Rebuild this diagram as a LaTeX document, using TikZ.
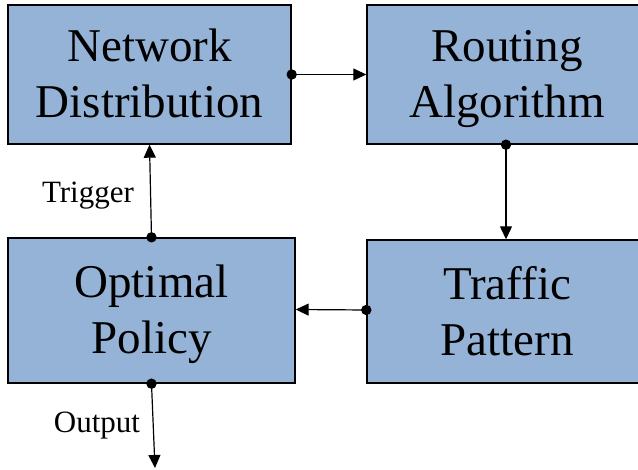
\documentclass[tikz,border=0pt]{standalone}
\usepackage{fontspec}
\setmainfont{Liberation Serif}
\usetikzlibrary{arrows.meta}
\definecolor{boxblue}{RGB}{149,179,215}
\tikzset{
	block/.style={draw=black, line width=1.4pt, fill=boxblue, align=center,
		font=\fontsize{47}{56}\selectfont, inner sep=0pt, text depth=2pt},
	link/.style={line width=1.2pt, -{Triangle[length=13pt,width=12pt]}},
	tag/.style={font=\fontsize{31}{36}\selectfont}
}
\newcommand{\startdot}[1]{\fill (#1) circle (5.2pt);}
\begin{document}
\begin{tikzpicture}[x=1pt,y=-1pt]
	\useasboundingbox (0,0) rectangle (638,470);
	% The four blocks of the loop (the right column runs past the page edge)
	\node[block, minimum width=283pt, minimum height=139pt] (net) at (149.5,74.5) {Network\\Distribution};
	\node[block, minimum width=280pt, minimum height=139pt] (rout) at (507,74.5) {Routing\\Algorithm};
	\node[block, minimum width=287pt, minimum height=145pt] (opt) at (151.5,310.5) {Optimal\\Policy};
	\node[block, minimum width=280pt, minimum height=143pt] (traf) at (507,311.5) {Traffic\\Pattern};
	% Free end of the output line
	\coordinate (out) at (155,468);
	% Connectors, each starting from a dot
	\draw[link] (net.east) -- (rout.west);
	\startdot{net.east}
	\draw[link] ([xshift=-1pt]rout.south) -- ([xshift=-1pt]traf.north);
	\startdot{[xshift=-1pt]rout.south}
	\draw[link] ([yshift=1.5pt]traf.west) -- ([yshift=1pt]opt.east);
	\startdot{[yshift=1.5pt]traf.west}
	\draw[link] (opt.north) -- (net.south);
	\startdot{opt.north}
	\draw[link] (opt.south) -- (out);
	\startdot{opt.south}
	% Labels on the side lines
	\node[tag] (trig) at (88,196) {Trigger};
	\node[tag] (outlbl) at (97,426) {Output};
\end{tikzpicture}
\end{document}
